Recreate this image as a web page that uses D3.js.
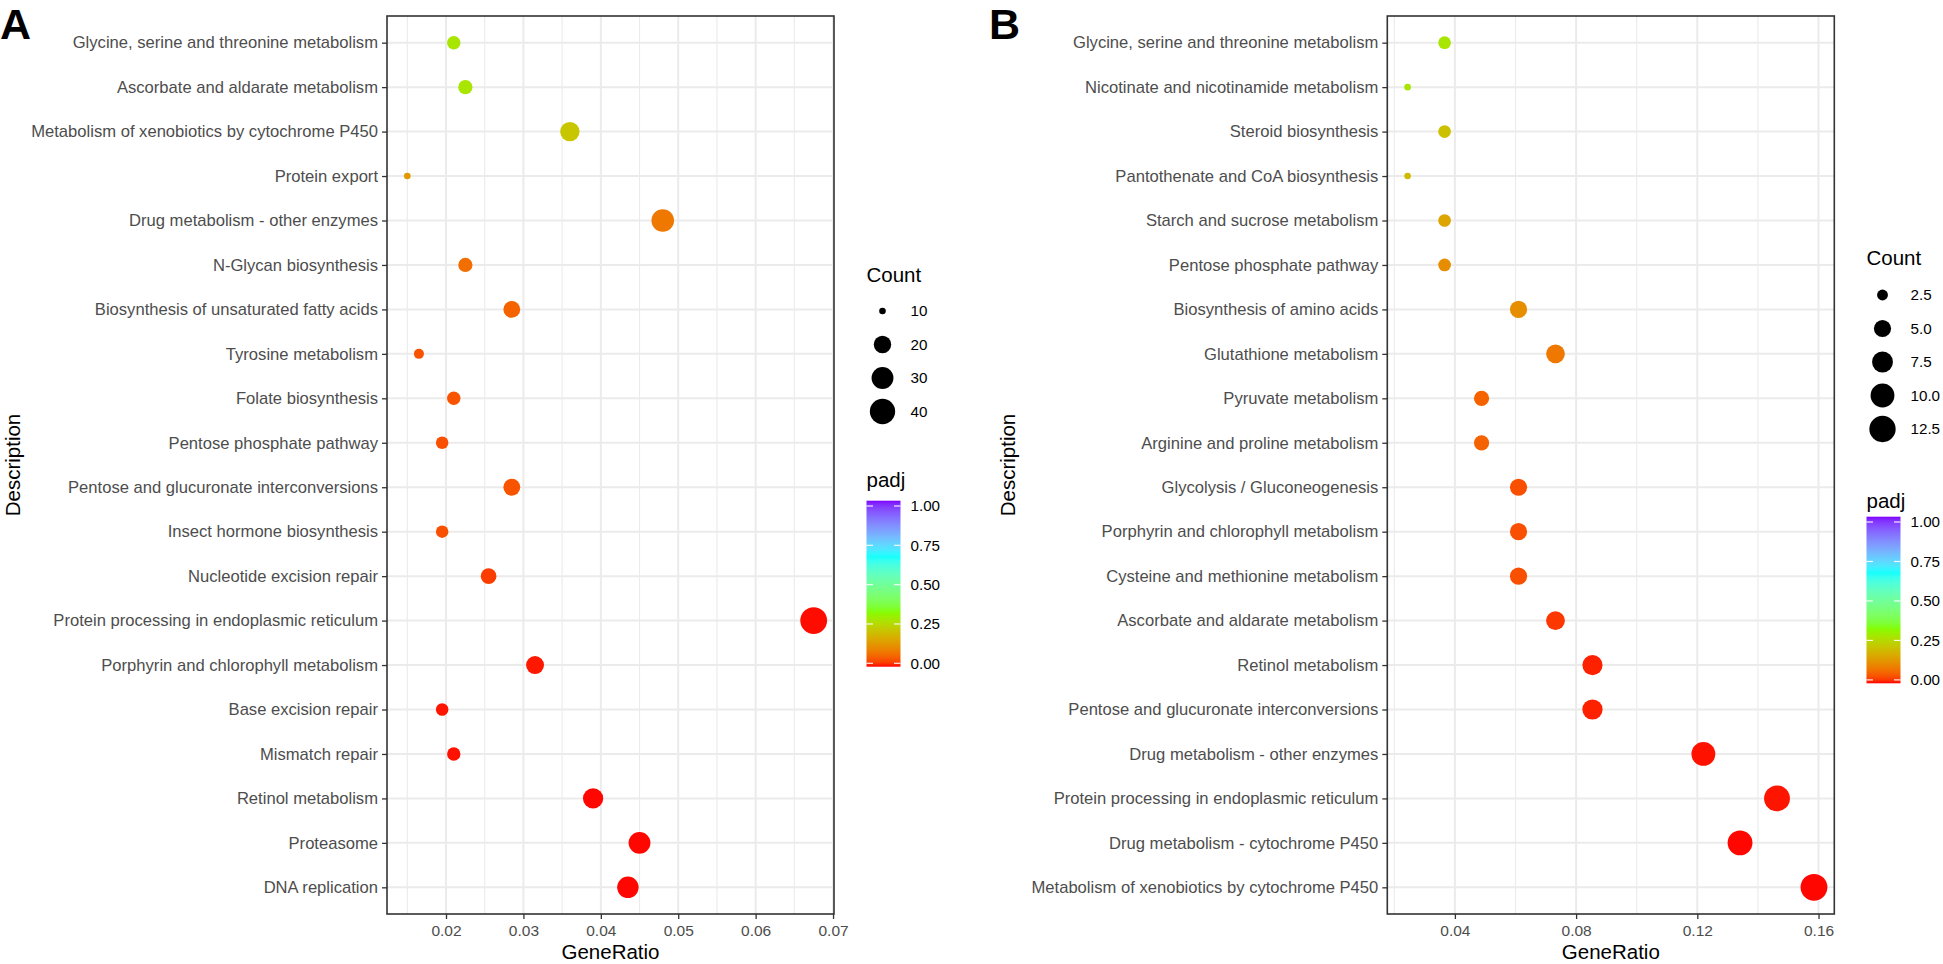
<!DOCTYPE html>
<html>
<head>
<meta charset="utf-8">
<script src="https://cdn.jsdelivr.net/npm/d3@7"></script>
<style>
  html, body { margin: 0; padding: 0; background: #fff; }
  svg { display: block; }
  text { font-family: "Liberation Sans", Arial, Helvetica, sans-serif; }
</style>
</head>
<body>
<script>
// ---------------- DATA ----------------
const categoriesA = [
  "Glycine, serine and threonine metabolism",
  "Ascorbate and aldarate metabolism",
  "Metabolism of xenobiotics by cytochrome P450",
  "Protein export",
  "Drug metabolism - other enzymes",
  "N-Glycan biosynthesis",
  "Biosynthesis of unsaturated fatty acids",
  "Tyrosine metabolism",
  "Folate biosynthesis",
  "Pentose phosphate pathway",
  "Pentose and glucuronate interconversions",
  "Insect hormone biosynthesis",
  "Nucleotide excision repair",
  "Protein processing in endoplasmic reticulum",
  "Porphyrin and chlorophyll metabolism",
  "Base excision repair",
  "Mismatch repair",
  "Retinol metabolism",
  "Proteasome",
  "DNA replication"
];
const geneRatioA = [0.0210, 0.0225, 0.0360, 0.0150, 0.0480, 0.0225, 0.0285, 0.0165, 0.0210, 0.0195,
                    0.0285, 0.0195, 0.0255, 0.0675, 0.0315, 0.0195, 0.0210, 0.0390, 0.0450, 0.0435];
const countA     = [14, 15, 24, 10, 32, 15, 19, 11, 14, 13, 19, 13, 17, 45, 21, 13, 14, 26, 30, 29];
const padjA      = [0.28, 0.28, 0.22, 0.14, 0.09, 0.075, 0.06, 0.045, 0.045, 0.04,
                    0.045, 0.04, 0.025, 0.002, 0.005, 0.004, 0.003, 0.001, 0.001, 0.001];
const xTicksA    = [0.02, 0.03, 0.04, 0.05, 0.06, 0.07];
const xMinorA    = [0.015, 0.025, 0.035, 0.045, 0.055, 0.065];
const countBreaksA = [10, 20, 30, 40];

const categoriesB = [
  "Glycine, serine and threonine metabolism",
  "Nicotinate and nicotinamide metabolism",
  "Steroid biosynthesis",
  "Pantothenate and CoA biosynthesis",
  "Starch and sucrose metabolism",
  "Pentose phosphate pathway",
  "Biosynthesis of amino acids",
  "Glutathione metabolism",
  "Pyruvate metabolism",
  "Arginine and proline metabolism",
  "Glycolysis / Gluconeogenesis",
  "Porphyrin and chlorophyll metabolism",
  "Cysteine and methionine metabolism",
  "Ascorbate and aldarate metabolism",
  "Retinol metabolism",
  "Pentose and glucuronate interconversions",
  "Drug metabolism - other enzymes",
  "Protein processing in endoplasmic reticulum",
  "Drug metabolism - cytochrome P450",
  "Metabolism of xenobiotics by cytochrome P450"
];
const geneRatioB = [0.0366, 0.0244, 0.0366, 0.0244, 0.0366, 0.0366, 0.0610, 0.0732, 0.0488, 0.0488,
                    0.0610, 0.0610, 0.0610, 0.0732, 0.0854, 0.0854, 0.1220, 0.1463, 0.1341, 0.1585];
const countB     = [3, 2, 3, 2, 3, 3, 5, 6, 4, 4, 5, 5, 5, 6, 7, 7, 10, 12, 11, 13];
const padjB      = [0.28, 0.28, 0.21, 0.20, 0.16, 0.12, 0.12, 0.09, 0.06, 0.06,
                    0.04, 0.04, 0.04, 0.02, 0.008, 0.008, 0.003, 0.004, 0.001, 0.001];
const xTicksB    = [0.04, 0.08, 0.12, 0.16];
const xMinorB    = [0.02, 0.06, 0.10, 0.14];
const countBreaksB = [2.5, 5.0, 7.5, 10.0, 12.5];

const padjBreaks = [0, 0.25, 0.5, 0.75, 1];
const padjPalette = ["#FF0000", "#80FF00", "#00FFFF", "#8000FF"];

// ---------------- DRAWING ----------------
const W = 1943, H = 964;
const svg = d3.select("body").append("svg").attr("width", W).attr("height", H);

const colour = d3.scaleLinear()
  .domain([0, 1/3, 2/3, 1])
  .range(padjPalette)
  .interpolate(d3.interpolateLab);

const GRID = "#ebebeb";
const AXISTXT = "#4d4d4d";
const YTXT = 16.6, XTXT = 15.5, LTXT = 15.2, TITLE = 20.5;

function drawPanel(opt) {
  const { cats, ratio, count, padj, ticks, minor, breaks, box, label, labelX, legend, titleX, fmt } = opt;
  const g = svg.append("g");

  const ext = d3.extent(ratio);
  const pad = (ext[1] - ext[0]) * 0.05;
  const x = d3.scaleLinear().domain([ext[0] - pad, ext[1] + pad]).range([box.x0, box.x1]);
  const y = d3.scalePoint().domain(cats).range([box.y0, box.y1]).padding(0.6);

  const cExt = d3.extent(count);
  const rScale = d3.scaleSqrt().domain([0, cExt[1] - cExt[0]]).range([3.3, 13.4]).clamp(true);
  const r = c => rScale(c - cExt[0]);

  // grid
  g.append("g").selectAll("line").data(minor).join("line")
    .attr("x1", d => x(d)).attr("x2", d => x(d))
    .attr("y1", box.y0).attr("y2", box.y1)
    .attr("stroke", GRID).attr("stroke-width", 1.1);
  g.append("g").selectAll("line").data(ticks).join("line")
    .attr("x1", d => x(d)).attr("x2", d => x(d))
    .attr("y1", box.y0).attr("y2", box.y1)
    .attr("stroke", GRID).attr("stroke-width", 2);
  g.append("g").selectAll("line").data(cats).join("line")
    .attr("x1", box.x0).attr("x2", box.x1)
    .attr("y1", d => y(d)).attr("y2", d => y(d))
    .attr("stroke", GRID).attr("stroke-width", 2);

  // points
  const pts = cats.map((c, i) => ({ c, v: ratio[i], n: count[i], p: padj[i] }));
  g.append("g").selectAll("circle").data(pts).join("circle")
    .attr("cx", d => x(d.v)).attr("cy", d => y(d.c))
    .attr("r", d => r(d.n))
    .attr("fill", d => colour(d.p));

  // border
  g.append("rect").attr("x", box.x0).attr("y", box.y0)
    .attr("width", box.x1 - box.x0).attr("height", box.y1 - box.y0)
    .attr("fill", "none").attr("stroke", "#333").attr("stroke-width", 1.6);

  // axes
  const ya = g.append("g").attr("transform", `translate(${box.x0},0)`)
    .call(d3.axisLeft(y).tickSize(5).tickPadding(4));
  const xa = g.append("g").attr("transform", `translate(0,${box.y1})`)
    .call(d3.axisBottom(x).tickValues(ticks).tickFormat(d3.format(fmt)).tickSize(5).tickPadding(6));
  [[ya, YTXT], [xa, XTXT]].forEach(([a, fs]) => {
    a.select(".domain").remove();
    a.selectAll(".tick line").attr("stroke", "#333").attr("stroke-width", 1.3);
    a.selectAll(".tick text").attr("fill", AXISTXT).style("font-size", fs + "px")
      .style("font-family", '"Liberation Sans", Arial, Helvetica, sans-serif');
  });

  // axis titles
  g.append("text").attr("x", (box.x0 + box.x1) / 2).attr("y", 959)
    .attr("text-anchor", "middle").style("font-size", TITLE + "px").attr("fill", "#000")
    .text("GeneRatio");
  g.append("text")
    .attr("transform", `translate(${titleX},${(box.y0 + box.y1) / 2}) rotate(-90)`)
    .attr("text-anchor", "middle").style("font-size", TITLE + "px").attr("fill", "#000")
    .text("Description");

  // panel label
  g.append("text").attr("x", labelX).attr("y", 39)
    .style("font-size", "43px").style("font-weight", "bold").attr("fill", "#000")
    .text(label);

  // Count legend
  const L = legend;
  g.append("text").attr("x", L.x).attr("y", L.countTitleY)
    .style("font-size", TITLE + "px").attr("fill", "#000").text("Count");
  const kg = g.append("g");
  breaks.forEach((b, i) => {
    const cy = L.firstKeyY + i * 33.5;
    kg.append("circle").attr("cx", L.x + 16).attr("cy", cy).attr("r", r(b)).attr("fill", "#000");
    kg.append("text").attr("x", L.x + 44).attr("y", cy).attr("dy", "0.35em")
      .style("font-size", LTXT + "px").attr("fill", "#000").text(fmtBreak(b, breaks));
  });

  // padj colourbar
  g.append("text").attr("x", L.x).attr("y", L.padjTitleY)
    .style("font-size", TITLE + "px").attr("fill", "#000").text("padj");
  const gradId = "grad" + label;
  const grad = svg.append("defs").append("linearGradient").attr("id", gradId)
    .attr("x1", 0).attr("x2", 0).attr("y1", 1).attr("y2", 0);
  d3.range(0, 1.0001, 0.02).forEach(t => {
    grad.append("stop").attr("offset", t).attr("stop-color", colour(t));
  });
  const cb = L.bar;
  const cy = d3.scaleLinear().domain([0, 1]).range([cb.y1 - 3.4, cb.y0 + 5.3]);
  g.append("rect").attr("x", L.x).attr("y", cb.y0).attr("width", 34).attr("height", cb.y1 - cb.y0)
    .attr("fill", `url(#${gradId})`);
  padjBreaks.forEach(b => {
    [[L.x, L.x + 6.5], [L.x + 27.5, L.x + 34]].forEach(([a1, a2]) => {
      g.append("line").attr("x1", a1).attr("x2", a2).attr("y1", cy(b)).attr("y2", cy(b))
        .attr("stroke", "#fff").attr("stroke-width", 1.2).attr("stroke-opacity", 0.9);
    });
    g.append("text").attr("x", L.x + 44).attr("y", cy(b)).attr("dy", "0.35em")
      .style("font-size", LTXT + "px").attr("fill", "#000").text(d3.format(".2f")(b));
  });
}

function fmtBreak(b, breaks) {
  const anyFrac = breaks.some(v => v % 1 !== 0);
  return anyFrac ? d3.format(".1f")(b) : d3.format("d")(b);
}

drawPanel({
  cats: categoriesA, ratio: geneRatioA, count: countA, padj: padjA,
  ticks: xTicksA, minor: xMinorA, breaks: countBreaksA, fmt: ".2f",
  box: { x0: 387, x1: 834, y0: 16, y1: 914 },
  label: "A", labelX: 0, titleX: 20,
  legend: { x: 866.5, countTitleY: 282, firstKeyY: 311, padjTitleY: 487, bar: { y0: 500.7, y1: 666.7 } }
});

drawPanel({
  cats: categoriesB, ratio: geneRatioB, count: countB, padj: padjB,
  ticks: xTicksB, minor: xMinorB, breaks: countBreaksB, fmt: ".2f",
  box: { x0: 1387.3, x1: 1834.3, y0: 16, y1: 914 },
  label: "B", labelX: 989, titleX: 1015,
  legend: { x: 1866.5, countTitleY: 265, firstKeyY: 295, padjTitleY: 508, bar: { y0: 516.7, y1: 683.3 } }
});
</script>
</body>
</html>
